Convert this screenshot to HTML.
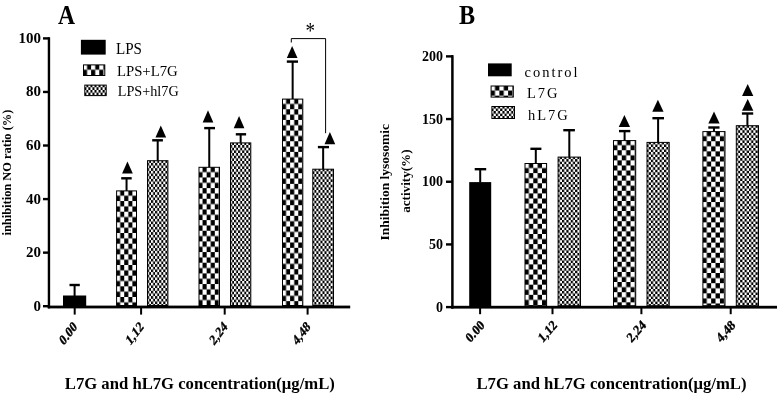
<!DOCTYPE html><html><head><meta charset="utf-8"><title>chart</title><style>html,body{margin:0;padding:0;background:#fff;}svg{display:block;font-family:"Liberation Serif",serif;fill:#000;will-change:transform;}</style></head><body>
<svg width="777" height="393" viewBox="0 0 777 393">
<rect width="777" height="393" fill="#fff"/>
<rect x="47.75" y="37.20" width="2.4" height="271.20"/>
<rect x="47.75" y="305.60" width="302.45" height="2.8"/>
<rect x="43.0" y="305.00" width="6" height="2.4"/>
<text transform="translate(41.0,310.70) scale(1.04,1)" font-size="14.4" font-weight="bold" text-anchor="end">0</text>
<rect x="43.0" y="251.44" width="6" height="2.4"/>
<text transform="translate(41.0,257.14) scale(1.04,1)" font-size="14.4" font-weight="bold" text-anchor="end">20</text>
<rect x="43.0" y="197.88" width="6" height="2.4"/>
<text transform="translate(41.0,203.58) scale(1.04,1)" font-size="14.4" font-weight="bold" text-anchor="end">40</text>
<rect x="43.0" y="144.32" width="6" height="2.4"/>
<text transform="translate(41.0,150.02) scale(1.04,1)" font-size="14.4" font-weight="bold" text-anchor="end">60</text>
<rect x="43.0" y="90.76" width="6" height="2.4"/>
<text transform="translate(41.0,96.46) scale(1.04,1)" font-size="14.4" font-weight="bold" text-anchor="end">80</text>
<rect x="43.0" y="37.20" width="6" height="2.4"/>
<text transform="translate(41.0,42.90) scale(1.04,1)" font-size="14.4" font-weight="bold" text-anchor="end">100</text>
<rect x="73.70" y="307.00" width="2.0" height="7.6"/>
<rect x="140.10" y="307.00" width="2.0" height="7.6"/>
<rect x="223.70" y="307.00" width="2.0" height="7.6"/>
<rect x="306.60" y="307.00" width="2.0" height="7.6"/>
<rect x="73.60" y="285.00" width="2.00" height="11.00" fill="#000"/>
<rect x="69.50" y="283.80" width="10.30" height="2.40" fill="#000"/>
<rect x="63.00" y="295.50" width="23.20" height="10.50" fill="#000"/>
<rect x="125.55" y="178.30" width="2.00" height="12.60" fill="#000"/>
<rect x="121.20" y="177.10" width="10.50" height="2.40" fill="#000"/>
<pattern id="p2" x="116.10" y="190.40" width="8.140" height="10.660" patternUnits="userSpaceOnUse"><rect width="8.140" height="10.660" fill="#fff"/><rect x="4.070" y="0" width="4.070" height="5.330" fill="#000"/><rect x="0" y="5.330" width="4.070" height="5.330" fill="#000"/></pattern>
<rect x="116.60" y="190.90" width="19.90" height="114.60" fill="url(#p2)" stroke="#000" stroke-width="1"/>
<rect x="156.70" y="140.30" width="2.00" height="20.40" fill="#000"/>
<rect x="152.20" y="139.10" width="10.70" height="2.40" fill="#000"/>
<pattern id="p3" x="147.00" y="160.20" width="4.070" height="5.330" patternUnits="userSpaceOnUse"><rect width="4.070" height="5.330" fill="#fff"/><rect x="2.035" y="0" width="2.035" height="2.665" fill="#000"/><rect x="0" y="2.665" width="2.035" height="2.665" fill="#000"/></pattern>
<rect x="147.50" y="160.70" width="20.40" height="144.80" fill="url(#p3)" stroke="#000" stroke-width="1"/>
<rect x="208.25" y="128.10" width="2.00" height="39.20" fill="#000"/>
<rect x="204.20" y="126.90" width="10.80" height="2.40" fill="#000"/>
<pattern id="p4" x="198.50" y="166.80" width="8.140" height="10.660" patternUnits="userSpaceOnUse"><rect width="8.140" height="10.660" fill="#fff"/><rect x="4.070" y="0" width="4.070" height="5.330" fill="#000"/><rect x="0" y="5.330" width="4.070" height="5.330" fill="#000"/></pattern>
<rect x="199.00" y="167.30" width="20.50" height="138.20" fill="url(#p4)" stroke="#000" stroke-width="1"/>
<rect x="239.65" y="134.30" width="2.00" height="8.60" fill="#000"/>
<rect x="235.80" y="133.10" width="10.30" height="2.40" fill="#000"/>
<pattern id="p5" x="230.00" y="142.40" width="4.070" height="5.330" patternUnits="userSpaceOnUse"><rect width="4.070" height="5.330" fill="#fff"/><rect x="2.035" y="0" width="2.035" height="2.665" fill="#000"/><rect x="0" y="2.665" width="2.035" height="2.665" fill="#000"/></pattern>
<rect x="230.50" y="142.90" width="20.30" height="162.60" fill="url(#p5)" stroke="#000" stroke-width="1"/>
<rect x="291.65" y="61.60" width="2.00" height="37.50" fill="#000"/>
<rect x="286.80" y="60.40" width="11.20" height="2.40" fill="#000"/>
<pattern id="p6" x="282.00" y="98.60" width="8.140" height="10.660" patternUnits="userSpaceOnUse"><rect width="8.140" height="10.660" fill="#fff"/><rect x="4.070" y="0" width="4.070" height="5.330" fill="#000"/><rect x="0" y="5.330" width="4.070" height="5.330" fill="#000"/></pattern>
<rect x="282.50" y="99.10" width="20.30" height="206.40" fill="url(#p6)" stroke="#000" stroke-width="1"/>
<rect x="322.15" y="147.10" width="2.00" height="22.10" fill="#000"/>
<rect x="317.90" y="145.90" width="11.10" height="2.40" fill="#000"/>
<pattern id="p7" x="312.30" y="168.70" width="4.070" height="5.330" patternUnits="userSpaceOnUse"><rect width="4.070" height="5.330" fill="#fff"/><rect x="2.035" y="0" width="2.035" height="2.665" fill="#000"/><rect x="0" y="2.665" width="2.035" height="2.665" fill="#000"/></pattern>
<rect x="312.80" y="169.20" width="20.70" height="136.30" fill="url(#p7)" stroke="#000" stroke-width="1"/>
<polygon points="127.45,161.40 132.80,173.60 122.10,173.60" fill="#000"/>
<polygon points="160.80,125.40 166.15,137.60 155.45,137.60" fill="#000"/>
<polygon points="208.00,110.30 213.35,122.50 202.65,122.50" fill="#000"/>
<polygon points="239.05,116.00 244.40,128.20 233.70,128.20" fill="#000"/>
<polygon points="292.15,45.90 297.50,58.10 286.80,58.10" fill="#000"/>
<polygon points="329.90,132.00 335.25,144.20 324.55,144.20" fill="#000"/>
<path d="M291.3 42.5 V38.6 H325.6 V133.2" fill="none" stroke="#000" stroke-width="1"/>
<text transform="translate(310.25,38.1) scale(1.06,1.3)" font-size="18" text-anchor="middle">*</text>
<rect x="80.9" y="39.8" width="24.8" height="14.8"/>
<pattern id="p8" x="83.00" y="64.40" width="8.140" height="10.660" patternUnits="userSpaceOnUse"><rect width="8.140" height="10.660" fill="#fff"/><rect x="4.070" y="0" width="4.070" height="5.330" fill="#000"/><rect x="0" y="5.330" width="4.070" height="5.330" fill="#000"/></pattern>
<rect x="83.50" y="64.90" width="21.30" height="10.60" fill="url(#p8)" stroke="#000" stroke-width="1"/>
<pattern id="p9" x="84.30" y="84.60" width="4.070" height="5.330" patternUnits="userSpaceOnUse"><rect width="4.070" height="5.330" fill="#fff"/><rect x="2.035" y="0" width="2.035" height="2.665" fill="#000"/><rect x="0" y="2.665" width="2.035" height="2.665" fill="#000"/></pattern>
<rect x="84.80" y="85.10" width="21.40" height="10.50" fill="url(#p9)" stroke="#000" stroke-width="1"/>
<text transform="translate(116.00,53.60) scale(1.04,1.09)" font-size="14.5" font-weight="normal" text-anchor="start" >LPS</text>
<text transform="translate(116.90,76.40) scale(1.02,1.07)" font-size="14.5" font-weight="normal" text-anchor="start" >LPS+L7G</text>
<text transform="translate(117.80,95.70) scale(0.98,1.07)" font-size="14.5" font-weight="normal" text-anchor="start" >LPS+hl7G</text>
<text transform="translate(58.00,23.60) scale(1.05,1.17)" font-size="22.5" font-weight="bold" text-anchor="start" >A</text>
<text x="64.80" y="388.60" font-size="16.8" font-weight="bold" text-anchor="start" textLength="270" lengthAdjust="spacingAndGlyphs">L7G and hL7G concentration(μg/mL)</text>
<text transform="translate(10.7,172.6) rotate(-90)" font-size="12.4" font-weight="bold" text-anchor="middle" textLength="125.8" lengthAdjust="spacingAndGlyphs">inhibition NO ratio (%)</text>
<text transform="translate(77.90,327.6) scale(0.765,1) rotate(-45)" font-size="14.9" font-weight="bold" text-anchor="end" stroke="#000" stroke-width="0.3">0.00</text>
<text transform="translate(144.40,327.6) scale(0.765,1) rotate(-45)" font-size="14.9" font-weight="bold" text-anchor="end" stroke="#000" stroke-width="0.3">1,12</text>
<text transform="translate(228.10,327.6) scale(0.765,1) rotate(-45)" font-size="14.9" font-weight="bold" text-anchor="end" stroke="#000" stroke-width="0.3">2,24</text>
<text transform="translate(311.00,327.6) scale(0.765,1) rotate(-45)" font-size="14.9" font-weight="bold" text-anchor="end" stroke="#000" stroke-width="0.3">4,48</text>
<rect x="451.15" y="55.18" width="2.5" height="253.42"/>
<rect x="451.15" y="305.80" width="325.85" height="2.8"/>
<rect x="446.0" y="305.90" width="7" height="2.4"/>
<text x="443.10" y="311.80" font-size="14.0" font-weight="bold" text-anchor="end" >0</text>
<rect x="446.0" y="243.22" width="7" height="2.4"/>
<text x="443.10" y="249.12" font-size="14.0" font-weight="bold" text-anchor="end" >50</text>
<rect x="446.0" y="180.54" width="7" height="2.4"/>
<text x="443.10" y="186.44" font-size="14.0" font-weight="bold" text-anchor="end" >100</text>
<rect x="446.0" y="117.86" width="7" height="2.4"/>
<text x="443.10" y="123.76" font-size="14.0" font-weight="bold" text-anchor="end" >150</text>
<rect x="446.0" y="55.18" width="7" height="2.4"/>
<text x="443.10" y="61.08" font-size="14.0" font-weight="bold" text-anchor="end" >200</text>
<rect x="479.10" y="307.20" width="2.0" height="7.0"/>
<rect x="551.50" y="307.20" width="2.0" height="7.0"/>
<rect x="640.40" y="307.20" width="2.0" height="7.0"/>
<rect x="729.70" y="307.20" width="2.0" height="7.0"/>
<rect x="479.20" y="169.20" width="2.00" height="13.40" fill="#000"/>
<rect x="474.70" y="168.00" width="11.50" height="2.40" fill="#000"/>
<rect x="469.20" y="182.10" width="22.00" height="124.10" fill="#000"/>
<rect x="534.80" y="148.80" width="2.00" height="14.70" fill="#000"/>
<rect x="530.40" y="147.60" width="11.00" height="2.40" fill="#000"/>
<pattern id="p11" x="524.50" y="163.00" width="8.760" height="10.140" patternUnits="userSpaceOnUse"><rect width="8.760" height="10.140" fill="#fff"/><rect x="4.380" y="0" width="4.380" height="5.070" fill="#000"/><rect x="0" y="5.070" width="4.380" height="5.070" fill="#000"/></pattern>
<rect x="525.00" y="163.50" width="21.60" height="142.20" fill="url(#p11)" stroke="#000" stroke-width="1"/>
<rect x="568.30" y="130.20" width="2.00" height="26.90" fill="#000"/>
<rect x="563.30" y="129.00" width="11.60" height="2.40" fill="#000"/>
<pattern id="p12" x="557.60" y="156.60" width="4.380" height="5.070" patternUnits="userSpaceOnUse"><rect width="4.380" height="5.070" fill="#fff"/><rect x="2.190" y="0" width="2.190" height="2.535" fill="#000"/><rect x="0" y="2.535" width="2.190" height="2.535" fill="#000"/></pattern>
<rect x="558.10" y="157.10" width="22.40" height="148.60" fill="url(#p12)" stroke="#000" stroke-width="1"/>
<rect x="623.60" y="131.10" width="2.00" height="9.50" fill="#000"/>
<rect x="619.00" y="129.90" width="11.30" height="2.40" fill="#000"/>
<pattern id="p13" x="613.00" y="140.10" width="8.760" height="10.140" patternUnits="userSpaceOnUse"><rect width="8.760" height="10.140" fill="#fff"/><rect x="4.380" y="0" width="4.380" height="5.070" fill="#000"/><rect x="0" y="5.070" width="4.380" height="5.070" fill="#000"/></pattern>
<rect x="613.50" y="140.60" width="22.20" height="165.10" fill="url(#p13)" stroke="#000" stroke-width="1"/>
<rect x="657.10" y="118.20" width="2.00" height="24.20" fill="#000"/>
<rect x="652.40" y="117.00" width="11.60" height="2.40" fill="#000"/>
<pattern id="p14" x="646.50" y="141.90" width="4.380" height="5.070" patternUnits="userSpaceOnUse"><rect width="4.380" height="5.070" fill="#fff"/><rect x="2.190" y="0" width="2.190" height="2.535" fill="#000"/><rect x="0" y="2.535" width="2.190" height="2.535" fill="#000"/></pattern>
<rect x="647.00" y="142.40" width="22.20" height="163.30" fill="url(#p14)" stroke="#000" stroke-width="1"/>
<rect x="712.95" y="127.50" width="2.00" height="4.10" fill="#000"/>
<rect x="708.30" y="126.30" width="11.20" height="2.40" fill="#000"/>
<pattern id="p15" x="702.40" y="131.10" width="8.760" height="10.140" patternUnits="userSpaceOnUse"><rect width="8.760" height="10.140" fill="#fff"/><rect x="4.380" y="0" width="4.380" height="5.070" fill="#000"/><rect x="0" y="5.070" width="4.380" height="5.070" fill="#000"/></pattern>
<rect x="702.90" y="131.60" width="22.10" height="174.10" fill="url(#p15)" stroke="#000" stroke-width="1"/>
<rect x="746.40" y="113.50" width="2.00" height="12.20" fill="#000"/>
<rect x="741.90" y="112.30" width="11.30" height="2.40" fill="#000"/>
<pattern id="p16" x="735.80" y="125.20" width="4.380" height="5.070" patternUnits="userSpaceOnUse"><rect width="4.380" height="5.070" fill="#fff"/><rect x="2.190" y="0" width="2.190" height="2.535" fill="#000"/><rect x="0" y="2.535" width="2.190" height="2.535" fill="#000"/></pattern>
<rect x="736.30" y="125.70" width="22.20" height="180.00" fill="url(#p16)" stroke="#000" stroke-width="1"/>
<polygon points="624.40,115.00 630.05,126.90 618.75,126.90" fill="#000"/>
<polygon points="657.90,99.80 663.55,111.70 652.25,111.70" fill="#000"/>
<polygon points="714.00,111.50 719.65,123.40 708.35,123.40" fill="#000"/>
<polygon points="747.70,98.90 753.35,110.80 742.05,110.80" fill="#000"/>
<polygon points="747.70,84.10 753.35,96.00 742.05,96.00" fill="#000"/>
<rect x="488.0" y="63.4" width="23.7" height="12.9"/>
<pattern id="p17" x="490.60" y="85.50" width="8.760" height="10.140" patternUnits="userSpaceOnUse"><rect width="8.760" height="10.140" fill="#fff"/><rect x="4.380" y="0" width="4.380" height="5.070" fill="#000"/><rect x="0" y="5.070" width="4.380" height="5.070" fill="#000"/></pattern>
<rect x="491.10" y="86.00" width="22.20" height="11.10" fill="url(#p17)" stroke="#000" stroke-width="1"/>
<pattern id="p18" x="491.40" y="106.00" width="4.380" height="5.070" patternUnits="userSpaceOnUse"><rect width="4.380" height="5.070" fill="#fff"/><rect x="2.190" y="0" width="2.190" height="2.535" fill="#000"/><rect x="0" y="2.535" width="2.190" height="2.535" fill="#000"/></pattern>
<rect x="491.90" y="106.50" width="22.60" height="12.00" fill="url(#p18)" stroke="#000" stroke-width="1"/>
<text transform="translate(524.60,76.60) scale(1,1.07)" font-size="14.5" font-weight="normal" text-anchor="start" textLength="53" lengthAdjust="spacing">control</text>
<text transform="translate(527.10,97.70) scale(1,1.07)" font-size="14.5" font-weight="normal" text-anchor="start" textLength="30.4" lengthAdjust="spacing">L7G</text>
<text transform="translate(528.00,119.60) scale(1,1.07)" font-size="14.5" font-weight="normal" text-anchor="start" textLength="39.8" lengthAdjust="spacing">hL7G</text>
<text transform="translate(459.00,24.00) scale(1.075,1.18)" font-size="22.5" font-weight="bold" text-anchor="start" >B</text>
<text x="476.50" y="388.60" font-size="16.8" font-weight="bold" text-anchor="start" textLength="270" lengthAdjust="spacingAndGlyphs">L7G and hL7G concentration(μg/mL)</text>
<text transform="translate(388.9,182.25) rotate(-90)" font-size="13.3" font-weight="bold" text-anchor="middle" textLength="116.3" lengthAdjust="spacingAndGlyphs">Inhibition lysosomic</text>
<text transform="translate(410.2,181.15) rotate(-90)" font-size="13.3" font-weight="bold" text-anchor="middle" textLength="63.3" lengthAdjust="spacingAndGlyphs">activity(%)</text>
<text transform="translate(485.40,325.9) scale(0.865,1) rotate(-45)" font-size="14.1" font-weight="bold" text-anchor="end" stroke="#000" stroke-width="0.3">0.00</text>
<text transform="translate(557.80,325.9) scale(0.865,1) rotate(-45)" font-size="14.1" font-weight="bold" text-anchor="end" stroke="#000" stroke-width="0.3">1,12</text>
<text transform="translate(646.70,325.9) scale(0.865,1) rotate(-45)" font-size="14.1" font-weight="bold" text-anchor="end" stroke="#000" stroke-width="0.3">2,24</text>
<text transform="translate(736.00,325.9) scale(0.865,1) rotate(-45)" font-size="14.1" font-weight="bold" text-anchor="end" stroke="#000" stroke-width="0.3">4,48</text>
</svg></body></html>
